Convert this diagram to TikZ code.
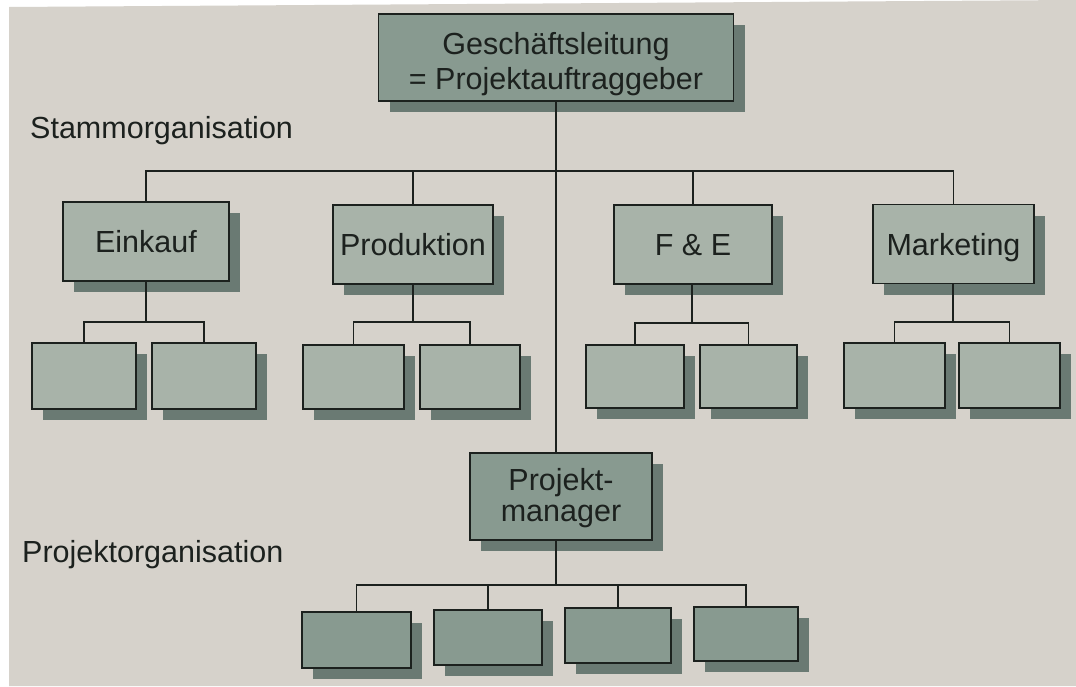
\documentclass[tikz,border=0pt]{standalone}
\usepackage{fontspec}
\setmainfont{Liberation Sans}
\usetikzlibrary{shadows}
\definecolor{paper}{RGB}{214,210,203}
\definecolor{darkfill}{RGB}{136,154,144}
\definecolor{lightfill}{RGB}{168,179,169}
\definecolor{shadowcol}{RGB}{106,122,115}
\definecolor{ink}{RGB}{28,33,30}
\tikzset{
  orgfont/.style={font=\fontsize{30.5}{35}\selectfont},
  orgbox/.style={draw=ink, line width=1.7pt, rectangle, inner sep=0pt, align=center,
    text=ink, orgfont,
    drop shadow={shadow xshift=11pt, shadow yshift=-11pt, fill=shadowcol, opacity=1}},
  headbox/.style={orgbox, fill=darkfill},
  deptbox/.style={orgbox, fill=lightfill, minimum height=79pt, text height=22pt, text depth=0pt},
  subbox/.style={orgbox, fill=lightfill, minimum width=102pt, minimum height=66pt},
  teambox/.style={orgbox, fill=darkfill, minimum width=107pt, minimum height=55pt},
  boxtext/.style={text=ink, orgfont, align=center, inner sep=0pt},
  conn/.style={draw=ink, line width=1.9pt},
  caption/.style={text=ink, orgfont, anchor=base west, inner sep=0pt}
}
\begin{document}
\begin{tikzpicture}[x=1pt, y=-1pt]
% sheet of paper
\fill[white] (0,0) rectangle (1076,686);
\fill[paper] (9,686) -- (9,7) -- (1076,0) -- (1076,686) -- cycle;
\useasboundingbox (0,0) rectangle (1076,686);

% top management
\node[headbox, minimum width=355pt, minimum height=87pt,
  label={[boxtext, font=\fontsize{30.5}{35}\selectfont, yshift=-7pt]center:{Geschäftsleitung\\= Projektauftraggeber}}]
  (gl) at (556,57.5) {};

% departments
\node[deptbox, minimum width=166pt] (ek) at (146,241.5) {Einkauf};
\node[deptbox, minimum width=160pt] (pr) at (413,244.5) {Produktion};
\node[deptbox, minimum width=158pt] (fe) at (693,244.5) {F \& E};
\node[deptbox, minimum width=161pt] (mk) at (953.5,244) {Marketing};

% department sub-units
\node[subbox, minimum width=104pt] (ek1) at (84,376) {};
\node[subbox, minimum width=104pt] (ek2) at (204,376) {};
\node[subbox, minimum width=101pt, minimum height=64pt] (pr1) at (353.5,377) {};
\node[subbox, minimum width=100pt, minimum height=64pt] (pr2) at (470,377) {};
\node[subbox, minimum width=98pt, minimum height=63pt] (fe1) at (635,376.5) {};
\node[subbox, minimum width=97pt, minimum height=63pt] (fe2) at (748.5,376.5) {};
\node[subbox, minimum width=101pt, minimum height=65pt] (mk1) at (894.5,375.5) {};
\node[subbox, minimum width=101pt, minimum height=65pt] (mk2) at (1009.5,375.5) {};

% project manager and team
\node[headbox, minimum width=182pt, minimum height=87pt,
  label={[boxtext, font=\fontsize{30.5}{31}\selectfont, yshift=-2pt]center:{Projekt-\\manager}}]
  (pm) at (561,496.5) {};
\node[teambox, minimum width=109pt, minimum height=56pt] (t1) at (356.5,640) {};
\node[teambox, minimum width=108pt, minimum height=55pt] (t2) at (488,637.5) {};
\node[teambox, minimum width=106pt, minimum height=55pt] (t3) at (618,635.5) {};
\node[teambox, minimum width=104pt, minimum height=54pt] (t4) at (746,634) {};

% captions
\node[caption] (stamm) at (30,138) {Stammorganisation};
\node[caption] (projorg) at (22,562) {Projektorganisation};

% bus coordinates
\coordinate (bus) at (556,171);
\coordinate (ekbus) at (146,322);
\coordinate (prbus) at (413,322);
\coordinate (febus) at (692,323);
\coordinate (mkbus) at (953,322);
\coordinate (teambus) at (556,585);

% trunk from management to project manager
\draw[conn] (gl.south) -- (gl.south |- pm.north);
% department bus
\draw[conn] (ek.north) -- (ek.north |- bus) -- (mk.north |- bus) -- (mk.north);
\draw[conn] (pr.north) -- (pr.north |- bus);
\draw[conn] (fe.north) -- (fe.north |- bus);

% department sub-unit links
\draw[conn] (ek.south) -- (ekbus);
\draw[conn] (ek1.north) -- (ek1.north |- ekbus) -- (ek2.north |- ekbus) -- (ek2.north);
\draw[conn] (pr.south) -- (prbus);
\draw[conn] (pr1.north) -- (pr1.north |- prbus) -- (pr2.north |- prbus) -- (pr2.north);
\draw[conn] (fe.south -| febus) -- (febus);
\draw[conn] (fe1.north) -- (fe1.north |- febus) -- (fe2.north |- febus) -- (fe2.north);
\draw[conn] (mk.south -| mkbus) -- (mkbus);
\draw[conn] (mk1.north) -- (mk1.north |- mkbus) -- (mk2.north |- mkbus) -- (mk2.north);

% project team links
\draw[conn] (pm.south -| teambus) -- (teambus);
\draw[conn] (t1.north) -- (t1.north |- teambus) -- (t4.north |- teambus) -- (t4.north);
\draw[conn] (t2.north) -- (t2.north |- teambus);
\draw[conn] (t3.north) -- (t3.north |- teambus);
\end{tikzpicture}
\end{document}
